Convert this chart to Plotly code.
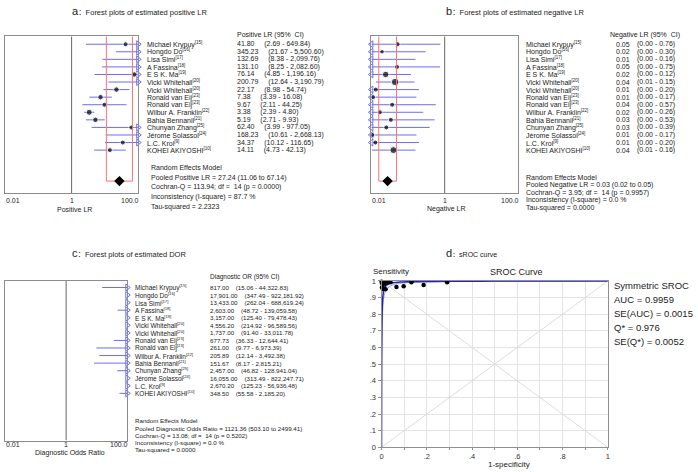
import plotly.graph_objects as go

W, H = 698, 472
def PX(x): return x / W
def PY(y): return 1 - y / H

FONT = "Liberation Sans, Arial, Noto Sans CJK SC"
TXT = "#222222"
BLUE = "#6c6cf5"
RED = "#ff7070"

# ---------------- data ----------------
studies = ["Michael Krypuy", "Hongdo Do", "Lisa Simi", "A Fassina", "E S K. Ma",
           "Vicki Whitehall", "Vicki Whitehall", "Ronald van Eij", "Ronald van Eij",
           "Wilbur A. Franklin", "Bahia Bennanil", "Chunyan Zhang", "Jérome Solassol",
           "L.C. Krol", "KOHEI AKIYOSHI"]
refs = ["15", "16", "17", "18", "19", "20", "20", "23", "23", "22", "21", "25", "24", "9", "10"]

# positive LR
plr_est = [41.80, 345.23, 132.69, 131.10, 76.14, 200.79, 22.17, 7.38, 9.67, 3.38, 5.19, 62.40, 168.23, 34.37, 14.11]
plr_lo = [2.69, 21.67, 8.38, 8.25, 4.85, 12.64, 8.98, 3.39, 2.11, 2.39, 2.71, 3.99, 10.61, 10.12, 4.73]
plr_hi = [649.84, 5500.60, 2099.76, 2082.60, 1196.16, 3190.79, 54.74, 16.08, 44.25, 4.80, 9.93, 977.05, 2668.13, 116.65, 42.13]
plr_pool = [27.24, 11.06, 67.14]
plr_q, plr_df, plr_p, plr_i2, plr_tau2 = 113.94, 14, 0.0000, 87.7, 2.2323

# negative LR
nlr_est = [0.052, 0.0195, 0.008, 0.050, 0.0246, 0.0445, 0.0132, 0.0111, 0.037, 0.017, 0.034, 0.0256, 0.0106, 0.0128, 0.040]
nlr_lo = [0.001, 0.001, 0.001, 0.001, 0.001, 0.0134, 0.001, 0.001, 0.001, 0.001, 0.001, 0.001, 0.001, 0.001, 0.0102]
nlr_hi = [0.76, 0.30, 0.16, 0.75, 0.12, 0.15, 0.20, 0.17, 0.57, 0.26, 0.53, 0.39, 0.17, 0.20, 0.16]
nlr_pool = [0.0277, 0.0159, 0.0486]
nlr_q, nlr_df, nlr_p, nlr_i2, nlr_tau2 = 3.95, 14, 0.9957, 0.0, 0.0000

# diagnostic OR
dor_est = [817.00, 17901.00, 13433.00, 2603.00, 3157.00, 4556.20, 1737.00, 677.73, 261.00, 205.89, 151.67, 2457.00, 16055.00, 2670.20, 348.50]
dor_lo = [15.06, 347.49, 262.04, 48.72, 125.40, 214.92, 91.40, 36.33, 9.77, 12.14, 8.17, 46.82, 313.49, 125.23, 55.58]
dor_hi = [44322.83, 922181.92, 688619.24, 139059.58, 79478.43, 96589.56, 33011.78, 12644.41, 6973.39, 3492.38, 2815.21, 128941.04, 822247.71, 56936.48, 2185.20]
dor_pool = [1121.36, 503.10, 2499.41]
dor_q, dor_df, dor_p, dor_i2, dor_tau2 = 13.08, 14, 0.5202, 0.0, 0.0000

# study weights shown as dot sizes
plr_weight = [5, 5, 5, 5, 5.5, 5, 5.5, 5.5, 5, 6, 5.5, 5, 5, 5, 5]
nlr_weight = [5, 4.5, 5, 5, 6.5, 7.5, 5, 5, 5, 5, 5, 5, 5, 5, 7]

# sROC
sroc_fpr = [0.000, 0.003, 0.008, 0.012, 0.020, 0.030, 0.040, 0.002, 0.006, 0.018, 0.066, 0.098, 0.132, 0.186, 0.290]
sroc_tpr = [0.995, 0.985, 0.992, 0.978, 0.990, 0.992, 0.992, 0.960, 0.952, 0.950, 0.963, 0.968, 0.992, 0.975, 0.992]
curve_fpr = [0, 0.0005, 0.001, 0.002, 0.003, 0.005, 0.0075, 0.01, 0.015, 0.02, 0.03, 0.05, 0.08, 0.12, 0.2, 0.3, 0.5, 0.7, 1.0]
curve_tpr = [0, 0.45, 0.62, 0.77, 0.83, 0.89, 0.925, 0.943, 0.962, 0.971, 0.981, 0.989, 0.993, 0.995, 0.997, 0.998, 0.999, 1.0, 1.0]
low_fpr = [0, 0.001, 0.003, 0.006, 0.01, 0.02, 0.04, 0.08, 0.15, 0.3, 0.6, 1.0]
low_tpr = [0, 0.50, 0.72, 0.84, 0.90, 0.945, 0.97, 0.985, 0.992, 0.996, 0.998, 1.0]
sroc_stats = ["Symmetric SROC", "AUC = 0.9959", "SE(AUC) = 0.0015", "Q* = 0.976", "SE(Q*) = 0.0052"]
x_ticks = [0, 0.1, 0.2, 0.3, 0.4, 0.5, 0.6, 0.7, 0.8, 0.9, 1.0]
x_ticktext = ["0", "", ".2", "", ".4", "", ".6", "", ".8", "", "1"]
y_ticktext = ["0", ".1", ".2", ".3", ".4", ".5", ".6", ".7", ".8", ".9", "1"]

# ---------------- figure ----------------
fig = go.Figure()
ann = []

def A(x, y, text, size=7, anchor="left", color=TXT):
    ann.append(dict(x=x, y=y, xref="paper", yref="paper", text=text, showarrow=False,
                    xanchor=anchor, yanchor="middle", font=dict(family=FONT, size=size, color=color),
                    borderpad=0))

POOL_ROW = 18.1
AB_ROW0, C_ROW0, ROW_STEP = 41.0, 289.0, 7.71

def forest(xa, ya, est, lo, hi, sizes, ytop, ybot):
    xmin, xmax = 0.01, 100.0
    lx, ly = [], []
    rx, ry, lfx, lfy = [], [], [], []
    dx, dy, ds = [], [], []
    for i, (e, l, h) in enumerate(zip(est, lo, hi)):
        a, b = max(l, xmin), min(h, xmax)
        if a < b:
            lx += [a, b, None]; ly += [i, i, None]
        if h > xmax:
            rx.append(xmax); ry.append(i)
        if l < xmin:
            lfx.append(xmin); lfy.append(i)
        if xmin <= e <= xmax and sizes is not None:
            dx.append(e); dy.append(i); ds.append(sizes[i])
    fig.add_trace(go.Scatter(x=[1, 1], y=[ytop, ybot], xaxis=xa, yaxis=ya, mode="lines",
                             line=dict(color="#666666", width=1), hoverinfo="skip"))
    fig.add_trace(go.Scatter(x=lx, y=ly, xaxis=xa, yaxis=ya, mode="lines",
                             line=dict(color=BLUE, width=1), hoverinfo="skip"))
    if rx:
        fig.add_trace(go.Scatter(x=rx, y=ry, xaxis=xa, yaxis=ya, mode="markers", cliponaxis=False,
                                 marker=dict(symbol="triangle-right-open", size=6, color=BLUE,
                                             line=dict(width=1, color=BLUE)), hoverinfo="skip"))
    if lfx:
        fig.add_trace(go.Scatter(x=lfx, y=lfy, xaxis=xa, yaxis=ya, mode="markers", cliponaxis=False,
                                 marker=dict(symbol="triangle-left-open", size=6, color=BLUE,
                                             line=dict(width=1, color=BLUE)), hoverinfo="skip"))
    if dx:
        fig.add_trace(go.Scatter(x=dx, y=dy, xaxis=xa, yaxis=ya, mode="markers",
                                 marker=dict(symbol="circle", size=ds, color="black"), hoverinfo="skip"))

def pooled(xa, ya, pool, ytop):
    e, l, h = pool
    fig.add_trace(go.Scatter(x=[l, l, h, h], y=[ytop, POOL_ROW, POOL_ROW, ytop], xaxis=xa, yaxis=ya,
                             mode="lines", line=dict(color=RED, width=1), hoverinfo="skip"))
    fig.add_trace(go.Scatter(x=[e], y=[POOL_ROW], xaxis=xa, yaxis=ya, mode="markers",
                             marker=dict(symbol="diamond", size=8, color="black"), hoverinfo="skip"))

AB_TOP, AB_BOT = (33 - AB_ROW0) / ROW_STEP, (193 - AB_ROW0) / ROW_STEP
C_TOP, C_BOT = (282 - C_ROW0) / ROW_STEP, (445 - C_ROW0) / ROW_STEP

forest("x", "y", plr_est, plr_lo, plr_hi, plr_weight, AB_TOP, AB_BOT)
pooled("x", "y", plr_pool, AB_TOP)
forest("x2", "y2", nlr_est, nlr_lo, nlr_hi, nlr_weight, AB_TOP, AB_BOT)
pooled("x2", "y2", nlr_pool, AB_TOP)
forest("x3", "y3", dor_est, dor_lo, dor_hi, None, C_TOP, C_BOT)

# sROC panel
fig.add_trace(go.Scatter(x=[0, 1], y=[0, 1], xaxis="x4", yaxis="y4", mode="lines",
                         line=dict(color="#dcdcdc", width=1), hoverinfo="skip"))
fig.add_trace(go.Scatter(x=[0, 1], y=[1, 0], xaxis="x4", yaxis="y4", mode="lines",
                         line=dict(color="#dcdcdc", width=1), hoverinfo="skip"))
fig.add_trace(go.Scatter(x=low_fpr, y=low_tpr, xaxis="x4", yaxis="y4", mode="lines",
                         line=dict(color="#9a9af2", width=1, shape="spline"), hoverinfo="skip"))
fig.add_trace(go.Scatter(x=curve_fpr, y=curve_tpr, xaxis="x4", yaxis="y4", mode="lines",
                         line=dict(color="#2323b8", width=1.5, shape="spline"), hoverinfo="skip"))
fig.add_trace(go.Scatter(x=sroc_fpr, y=sroc_tpr, xaxis="x4", yaxis="y4", mode="markers", cliponaxis=False,
                         marker=dict(size=4.5, color="black"), hoverinfo="skip"))

# ---------------- axes ----------------
box = dict(type="log", range=[-2, 2], showline=True, mirror=True, linecolor="#8c8c8c", linewidth=1,
           showgrid=False, zeroline=False, showticklabels=False, ticks="", fixedrange=True)
ybox = dict(showline=True, mirror=True, linecolor="#8c8c8c", linewidth=1, showgrid=False,
            zeroline=False, showticklabels=False, ticks="", fixedrange=True)

fig.update_layout(
    width=W, height=H, margin=dict(l=0, r=0, t=0, b=0),
    paper_bgcolor="white", plot_bgcolor="white", showlegend=False,
    xaxis=dict(box, domain=[PX(3), PX(137)], anchor="y"),
    yaxis=dict(ybox, domain=[PY(193), PY(33)], range=[AB_BOT, AB_TOP], anchor="x"),
    xaxis2=dict(box, domain=[PX(371.5), PX(519)], anchor="y2"),
    yaxis2=dict(ybox, domain=[PY(193), PY(33)], range=[AB_BOT, AB_TOP], anchor="x2"),
    xaxis3=dict(box, domain=[PX(3), PX(126)], anchor="y3"),
    yaxis3=dict(ybox, domain=[PY(445), PY(282)], range=[C_BOT, C_TOP], anchor="x3"),
    xaxis4=dict(domain=[PX(381.7), PX(609.3)], range=[0, 1], anchor="y4", tickvals=x_ticks,
                ticktext=x_ticktext, showgrid=True, gridcolor="#e4e4e4", gridwidth=1,
                showline=True, mirror=True, linecolor="#8f8f8f", ticks="outside", ticklen=2,
                tickcolor="#8f8f8f", zeroline=False, tickfont=dict(family=FONT, size=7.5, color="#333"),
                fixedrange=True),
    yaxis4=dict(domain=[PY(452), PY(282.3)], range=[0, 1], anchor="x4", tickvals=x_ticks,
                ticktext=y_ticktext, showgrid=True, gridcolor="#e4e4e4", gridwidth=1,
                showline=True, mirror=True, linecolor="#8f8f8f", ticks="outside", ticklen=3,
                tickcolor="#8f8f8f", zeroline=False, tickfont=dict(family=FONT, size=7.5, color="#333"),
                fixedrange=True),
)

# ---------------- text ----------------
def fmt(v):
    return f"{v:,.2f}"

NB = "\u00a0"

def title(x, y, letter, text, size=7.5):
    A(PX(x), PY(y), f'<span style="font-size:11px">{letter}</span>：{text}', size=size)

title(69, 7.5, "a", "Forest plots of estimated positive LR")
title(446, 7.5, "b", "Forest plots of estimated negative LR")
title(69, 253.5, "c", "Forest plots of estimated DOR")
title(446, 254, "d", "sROC curve", size=7)

A(PX(235), PY(32), "Positive LR (95%" + NB + " CI)", size=7)
A(PX(610), PY(32), "Negative LR (95%" + NB + " CI)", size=7)
A(PX(208), PY(278), "Diagnostic OR (95% CI)", size=6.5)

def lab(s, r, size):
    return (f'<span style="font-size:{size}px">{s}</span>'
            f'<sup><span style="font-size:{size * 0.65:.1f}px">[{r}]</span></sup>')

for i, (s, r) in enumerate(zip(studies, refs)):
    yab = PY(AB_ROW0 + ROW_STEP * i)
    yc = PY(C_ROW0 + ROW_STEP * i)
    A(PX(145), yab, lab(s, r, 7), size=7)
    A(PX(235), yab, f"{fmt(plr_est[i])}{NB*5}({fmt(plr_lo[i])} - {fmt(plr_hi[i])})", size=7)
    A(PX(526), yab, lab(s, r, 7), size=7)
    A(PX(617), yab, f"{nlr_est[i]:.2f}", size=7)
    A(PX(638), yab, f"({nlr_lo[i]:.2f} - {nlr_hi[i]:.2f})", size=7)
    A(PX(133), yc, lab(s, r, 6.5), size=6.5)
    A(PX(208), yc, f"{fmt(dor_est[i])}{NB*4}({fmt(dor_lo[i])} - {fmt(dor_hi[i])})", size=6.2)

def stats_lines(name, pool, q, df, p, i2, tau2):
    return ["Random Effects Model",
            f"Pooled {name} = {pool[0]:.2f} ({pool[1]:.2f} to {pool[2]:.2f})",
            f"Cochran-Q = {q:.2f}; df = {NB}{df} (p = {p:.4f})",
            f"Inconsistency (I-square) = {i2:.1f} %",
            f"Tau-squared = {tau2:.4f}"]

for t, y in zip(stats_lines("Positive LR", plr_pool, plr_q, plr_df, plr_p, plr_i2, plr_tau2),
                [167, 177, 187, 197, 207]):
    A(PX(149), PY(y), t, size=7)
for t, y in zip(stats_lines("Negative LR", nlr_pool, nlr_q, nlr_df, nlr_p, nlr_i2, nlr_tau2),
                [177, 184.7, 192.3, 200, 207.7]):
    A(PX(526), PY(y), t, size=7)
for t, y in zip(stats_lines("Diagnostic Odds Ratio", dor_pool, dor_q, dor_df, dor_p, dor_i2, dor_tau2),
                [425, 432.3, 439.6, 447, 454.5]):
    A(PX(133), PY(y), t, size=6.2)

for (l, r, y, ttl, ty, cx) in [(3, 137, 200, "Positive LR", 209, 73),
                                (371.5, 519, 200, "Negative LR", 209, 447),
                                (3, 126, 449, "Diagnostic Odds Ratio", 458, 68)]:
    A(PX(l), PY(y), "0.01", size=7, anchor="left")
    A(PX((l + r) / 2), PY(y), "1", size=7, anchor="center")
    A(PX(r + 2), PY(y), "100.0", size=7, anchor="right")
    A(PX(cx), PY(ty), ttl, size=7, anchor="center")

A(PX(372), PY(273), "Sensitivity", size=8)
A(PX(517), PY(273), "SROC Curve", size=9, anchor="center")
A(PX(510), PY(469), "1-specificity", size=8, anchor="center")
for t, y in zip(sroc_stats, [287, 301.5, 316, 330, 344]):
    A(PX(615), PY(y), t, size=9.5)

fig.update_layout(annotations=ann)
fig.write_html("out.html", config={"displayModeBar": False},
               post_script="document.body.style.margin='0px';document.body.style.overflow='hidden';")
